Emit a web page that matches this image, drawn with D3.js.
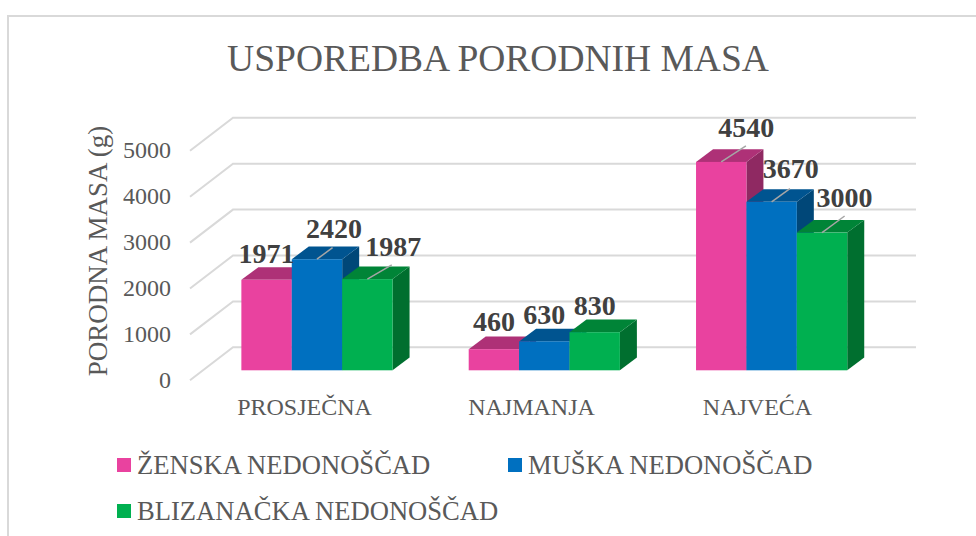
<!DOCTYPE html>
<html><head><meta charset="utf-8">
<script src="https://cdn.jsdelivr.net/npm/d3@7"></script>
<style>html,body{margin:0;padding:0;background:#fff}svg{display:block}text{font-family:"Liberation Serif","Times New Roman",serif}</style>
</head><body><svg id="c" width="976" height="536"></svg>
<script>
const categories = ["PROSJEČNA","NAJMANJA","NAJVEĆA"];
const seriesNames = ["ŽENSKA NEDONOŠČAD","MUŠKA NEDONOŠČAD","BLIZANAČKA NEDONOŠČAD"];
const zenska = [1971,460,4540];
const muska = [2420,630,3670];
const blizanacka = [1987,830,3000];
const yTicks = [0,1000,2000,3000,4000,5000];
const fronts = ["#E9429F","#0070C0","#00B050"];
const tops = ["#AE3177","#005490","#008437"];
const sides = ["#8F2962","#004778","#006F2F"];
// manual label placement: [dx from bar centre, baseline dy from bar front top, leader dx, leader dy]
const labelOffsets = [
 [[0,-17,0,0],[17,-21,15.6,-11.6],[26,-23,24.4,-14.3]],
 [[0,-18,0,0],[0,-17,0,0],[0,-17,0,0]],
 [[25,-25,24.7,-16],[19,-24,18.3,-13.3],[22.5,-26,22.6,-16.6]]
];
const values=[zenska,muska,blizanacka];
const svg=d3.select("#c");
const grey="#595959";
svg.append("rect").attr("x",8).attr("y",16).attr("width",1000).attr("height",600).attr("fill","#fff").attr("stroke","#D9D9D9").attr("stroke-width",2);
svg.append("text").attr("x",498).attr("y",71).attr("text-anchor","middle").attr("font-size",37.5).attr("fill",grey).text("USPOREDBA PORODNIH MASA");
const x=d3.scaleBand().domain(categories).range([203.3,885.3]);
const y=d3.scaleLinear().domain([0,5000]).range([347.3,117.8]);
const floor={dx:43,dy:33};
const g=svg.append("g");
g.selectAll("path.grid").data(yTicks).join("path").attr("class","grid").attr("fill","none").attr("stroke","#D9D9D9").attr("stroke-width",2)
 .attr("d",v=>`M${233-floor.dx},${y(v)+floor.dy}L233,${y(v)}H916`);
g.selectAll("text.yt").data(yTicks).join("text").attr("class","yt").attr("x",171).attr("y",v=>y(v)+floor.dy+7.5).attr("text-anchor","end").attr("font-size",24).attr("fill",grey).text(d=>d);
svg.append("text").attr("transform","translate(107,251) rotate(-90)").attr("text-anchor","middle").attr("font-size",27).attr("fill",grey).text("PORODNA MASA (g)");
const catX=[304.5,531.5,757.5];
svg.selectAll("text.cat").data(categories).join("text").attr("class","cat").attr("x",(d,i)=>catX[i]).attr("y",415).attr("text-anchor","middle").attr("font-size",24).attr("fill",grey).text(d=>d);
const inner=d3.scaleBand().domain(d3.range(3)).range([0,151.2]);
const baseY=y(0)+23, bd={dx:17,dy:12.7};
const labels=[];
categories.forEach((c,ci)=>{
 const cx=x(c)+x.bandwidth()/2-75.6;
 const cg=svg.append("g");
 [0,1,2].forEach(si=>{
  const v=values[si][ci], bx=cx+inner(si), w=inner.bandwidth(), t=y(v)+23;
  cg.append("path").attr("fill",sides[si]).attr("d",`M${bx+w},${t}l${bd.dx},${-bd.dy}V${baseY-bd.dy}L${bx+w},${baseY}Z`);
  cg.append("path").attr("fill",tops[si]).attr("d",`M${bx},${t}l${bd.dx},${-bd.dy}h${w}l${-bd.dx},${bd.dy}Z`);
  cg.append("rect").attr("x",bx).attr("y",t).attr("width",w).attr("height",baseY-t).attr("fill",fronts[si]);
  labels.push({v,xc:bx+w/2,t,o:labelOffsets[ci][si]});
 });
});
const lg=svg.append("g");
labels.forEach(l=>{
 if(l.o[2]) lg.append("line").attr("x1",l.xc).attr("y1",l.t).attr("x2",l.xc+l.o[2]).attr("y2",l.t+l.o[3]).attr("stroke","#A6A6A6").attr("stroke-width",1.5);
 lg.append("text").attr("x",l.xc+l.o[0]).attr("y",l.t+l.o[1]).attr("text-anchor","middle").attr("font-size",28).attr("font-weight","bold").attr("fill","#404040").text(l.v);
});
const legendPos=[[117,472],[508,472],[117,518]];
seriesNames.forEach((n,i)=>{
 const [lx,ly]=legendPos[i];
 svg.append("rect").attr("x",lx).attr("y",ly-14).attr("width",14).attr("height",14).attr("fill",fronts[i]);
 svg.append("text").attr("x",lx+20).attr("y",ly+1.5).attr("font-size",26.6).attr("fill",grey).text(n);
});
</script></body></html>
